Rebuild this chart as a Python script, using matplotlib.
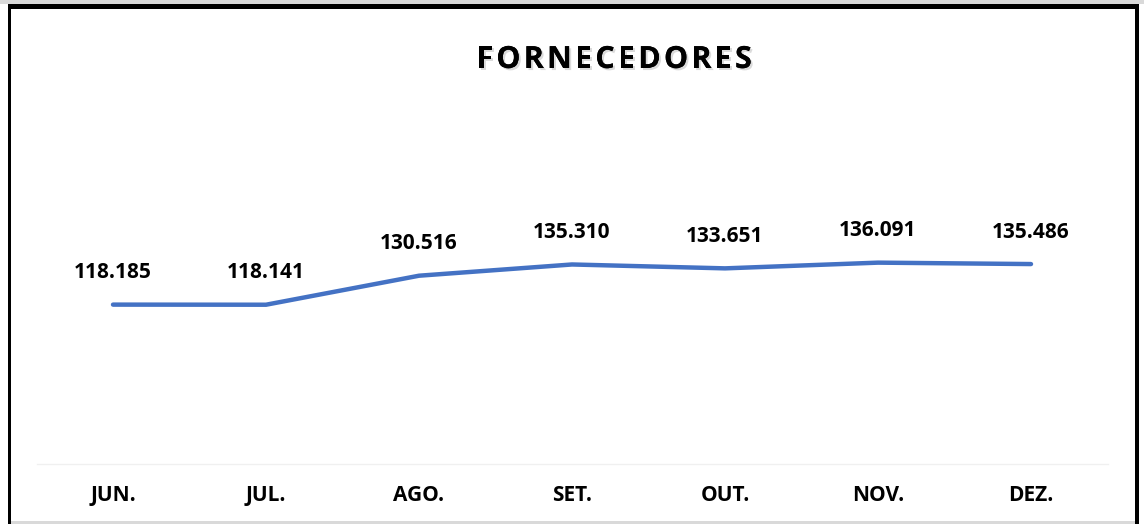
import matplotlib
matplotlib.use("Agg")
import matplotlib.pyplot as plt
from matplotlib.patches import Rectangle
import matplotlib.patheffects as pe

months = ["JUN.", "JUL.", "AGO.", "SET.", "OUT.", "NOV.", "DEZ."]
values = [118.185, 118.141, 130.516, 135.310, 133.651, 136.091, 135.486]
labels = ["118.185", "118.141", "130.516", "135.310", "133.651", "136.091", "135.486"]
title = "FORNECEDORES"

W, H = 1144, 524
fig = plt.figure(figsize=(W / 100, H / 100), dpi=100)
fig.patch.set_facecolor("white")

FONT = ["Open Sans", "DejaVu Sans"]

# plot area in pixel coordinates
left_px, right_px = 36.5, 1107.5
top_px, bottom_px = 80, 464
ax = fig.add_axes([left_px / W, 1 - bottom_px / H, (right_px - left_px) / W, (bottom_px - top_px) / H])
ax.set_facecolor("none")

x = list(range(len(months)))
ax.plot(x, values, color="#4472C4", lw=3.2, solid_capstyle="round", solid_joinstyle="round", zorder=3)
ax.set_xlim(-0.5, len(months) - 0.5)
ax.set_ylim(50.2, 214.0)

for xi, v, lab in zip(x, values, labels):
    ax.annotate(lab, (xi, v), xytext=(0, 23), textcoords="offset points",
                ha="center", va="center", fontsize=15, fontweight="bold",
                family=FONT, color="black")

for s in ["top", "right", "left"]:
    ax.spines[s].set_visible(False)
ax.spines["bottom"].set_color("#f0f0f0")
ax.spines["bottom"].set_linewidth(1)
ax.set_yticks([])
ax.set_xticks(x)
ax.set_xticklabels(months, fontsize=15, fontweight="bold", family=FONT)
ax.tick_params(axis="x", length=0, pad=15)

# title with letter spacing and soft shadow
renderer = fig.canvas.get_renderer()
tprops = dict(fontsize=22, fontweight="bold", family=FONT, color="black", va="center", ha="left")
spacing = 3.2
widths = []
for ch in title:
    t = fig.text(0, 0, ch, **tprops)
    widths.append(t.get_window_extent(renderer).width)
    t.remove()
total = sum(widths) + spacing * (len(title) - 1)
cx, cy = 614, 60
xpos = cx - total / 2
for ch, w in zip(title, widths):
    fig.text(xpos / W, 1 - cy / H, ch, **tprops,
             path_effects=[pe.withSimplePatchShadow(offset=(1.5, -1.5), shadow_rgbFace="#999999", alpha=0.35),
                           pe.Normal()])
    xpos += w + spacing

# outer frame
def rect_px(x0, y0, x1, y1, color):
    fig.patches.append(Rectangle((x0 / W, 1 - y1 / H), (x1 - x0) / W, (y1 - y0) / H,
                                 transform=fig.transFigure, facecolor=color, edgecolor="none", zorder=10))

rect_px(0, 0, W, 4, "#d9d9d9")
rect_px(8, 4, 1139, 9, "black")
rect_px(8, 4, 11, H, "black")
rect_px(1135, 4, 1139, H, "black")
rect_px(11, 521, 1135, H, "#d9d9d9")

fig.savefig("out.png", dpi=100, facecolor="white")
